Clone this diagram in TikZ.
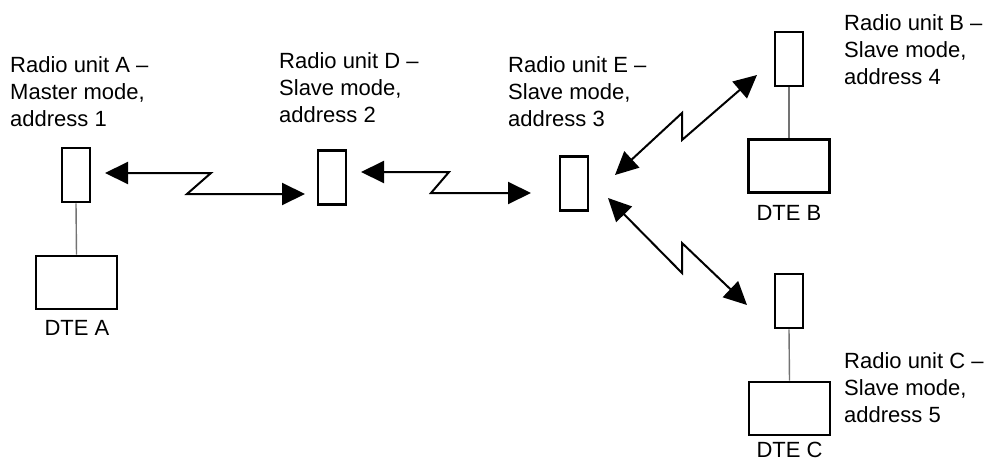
\documentclass[tikz,border=0pt]{standalone}
\usepackage{fontspec}
\setmainfont{Liberation Sans}
\usetikzlibrary{arrows.meta}
\begin{document}
\begin{tikzpicture}[x=1pt,y=-1pt,
  radio/.style={draw, line width=2.6pt, minimum width=28pt, minimum height=54pt, inner sep=0pt},
  dte/.style={draw, line width=2.6pt, minimum width=81pt, minimum height=53pt, inner sep=0pt},
  lbl/.style={anchor=north west, inner sep=0pt, align=left, font=\fontsize{22}{27}\selectfont},
  dtelbl/.style={anchor=base, inner sep=0pt, font=\fontsize{22}{27}\selectfont},
  link/.style={draw=black!55, line width=1.4pt},
  radiolink/.style={line width=2pt, {Triangle[length=23pt,width=22pt]}-{Triangle[length=23pt,width=22pt]}}]
\useasboundingbox (0,0) rectangle (991,463);
% radio units
\node[radio] (A) at (76,175) {};
\node[radio] (D) at (332,177.5) {};
\node[radio] (E) at (574,183.5) {};
\node[radio] (B) at (789,59) {};
\node[radio] (C) at (789,301) {};
% DTEs
\node[dte] (DA) at (76.5,282.5) {};
\node[dte] (DB) at (789,166) {};
\node[dte] (DC) at (789.5,408.5) {};
\draw[link] (A.south) -- (DA.north);
\draw[link] (B.south) -- (DB.north);
\draw[link] (C.south) -- (DC.north);
% labels
\node[lbl] (tA) at (10,56) {Radio unit A –\\Master mode,\\address 1};
\node[lbl] (tD) at (279,52) {Radio unit D –\\Slave mode,\\address 2};
\node[lbl] (tE) at (508,56) {Radio unit E –\\Slave mode,\\address 3};
\node[lbl] (tB) at (844,14) {Radio unit B –\\Slave mode,\\address 4};
\node[lbl] (tC) at (844,352) {Radio unit C –\\Slave mode,\\address 5};
\node[dtelbl] (lA) at (77,335) {DTE A};
\node[dtelbl] (lB) at (789,220) {DTE B};
\node[dtelbl] (lC) at (789.5,457) {DTE C};
% radio links
\coordinate (ad1) at (105,173);
\coordinate (ad2) at (211,173);
\coordinate (ad3) at (187,194);
\coordinate (ad4) at (305,194);
\draw[radiolink] (ad1) -- (ad2) -- (ad3) -- (ad4);
\coordinate (de1) at (361,172);
\coordinate (de2) at (449,172);
\coordinate (de3) at (431,193);
\coordinate (de4) at (531,193);
\draw[radiolink] (de1) -- (de2) -- (de3) -- (de4);
\coordinate (eb1) at (615,175);
\coordinate (eb2) at (682,113);
\coordinate (eb3) at (682,140);
\coordinate (eb4) at (757,75);
\draw[radiolink] (eb1) -- (eb2) -- (eb3) -- (eb4);
\coordinate (ec1) at (608,198);
\coordinate (ec2) at (682,273);
\coordinate (ec3) at (682,243);
\coordinate (ec4) at (747,305);
\draw[radiolink] (ec1) -- (ec2) -- (ec3) -- (ec4);
\end{tikzpicture}
\end{document}
